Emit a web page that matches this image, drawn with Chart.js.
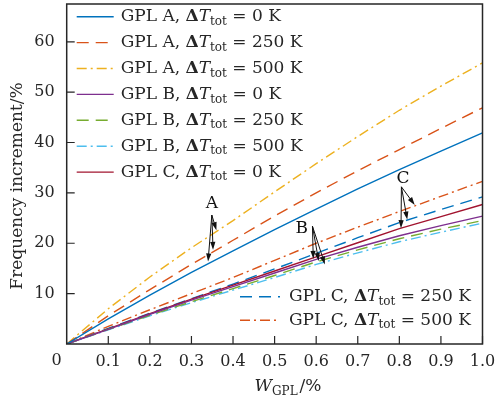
<!DOCTYPE html>
<html>
<head>
<meta charset="utf-8">
<script src="https://cdn.jsdelivr.net/npm/chart.js@4.4.0/dist/chart.umd.min.js"></script>
<style>
  html, body { margin: 0; padding: 0; background: #ffffff; }
  #wrap { width: 497px; height: 404px; position: relative; }
</style>
</head>
<body>
<div id="wrap"><canvas id="freqChart"></canvas></div>
<script>
// GPL weight fraction (x axis)
const wgpl = [0, 0.1, 0.2, 0.3, 0.4, 0.5, 0.6, 0.7, 0.8, 0.9, 1.0];

// frequency increment (%)
const gplA_0K   = [0, 5.0, 9.7, 14.2, 18.5, 22.7, 26.8, 30.8, 34.6, 38.3, 41.9];
const gplA_250K = [0, 5.6, 10.8, 15.8, 20.6, 25.4, 30.0, 34.4, 38.6, 42.8, 46.9];
const gplA_500K = [0, 7.0, 13.3, 19.1, 24.5, 30.2, 35.8, 41.2, 46.4, 51.2, 55.8];
const gplB_0K   = [0, 2.9, 5.9, 8.7, 11.4, 14.1, 16.8, 19.2, 21.5, 23.5, 25.4];
const gplB_250K = [0, 2.9, 5.7, 8.4, 11.0, 13.6, 16.3, 18.7, 20.9, 22.8, 24.5];
const gplB_500K = [0, 2.8, 5.6, 8.2, 10.7, 13.2, 15.8, 18.1, 20.3, 22.2, 24.0];
const gplC_0K   = [0, 3.0, 6.0, 8.9, 11.7, 14.5, 17.3, 20.1, 22.9, 25.3, 27.7];
const gplC_250K = [0, 3.1, 6.1, 9.0, 11.9, 14.9, 18.0, 21.1, 24.1, 26.7, 29.2];
const gplC_500K = [0, 3.5, 6.8, 10.0, 13.2, 16.6, 20.0, 23.2, 26.3, 29.3, 32.3];

const seriesGpl  = ['A', 'A', 'A', 'B', 'B', 'B', 'C', 'C', 'C'];
const seriesTemp = [0, 250, 500, 0, 250, 500, 0, 250, 500];
const seriesData = [gplA_0K, gplA_250K, gplA_500K, gplB_0K, gplB_250K, gplB_500K, gplC_0K, gplC_250K, gplC_500K];

const xTicks = [0.1, 0.2, 0.3, 0.4, 0.5, 0.6, 0.7, 0.8, 0.9, 1.0];
const yTicks = [10, 20, 30, 40, 50, 60];

// arrow callouts, in data units: label pos, arrow start, arrow tips
const callouts = [
    { text: 'A', at: [0.349, 27.9], from: [0.349, 25.6], tips: [[0.340, 16.4], [0.352, 18.7], [0.360, 22.6]] },
    { text: 'B', at: [0.565, 23.0], from: [0.591, 23.4], tips: [[0.593, 16.9], [0.606, 16.5], [0.621, 15.8]] },
    { text: 'C', at: [0.809, 32.9], from: [0.805, 31.2], tips: [[0.837, 27.6], [0.819, 24.7], [0.804, 23.0]] }
];

const colors = ['#0072BD', '#D95319', '#EDB120', '#7E2F8E', '#77AC30', '#4DBEEE', '#A2142F', '#0072BD', '#D95319'];
const dashes = [[], [12, 7], [10, 4, 2, 4]];
const SERIF = "'DejaVu Serif', 'Liberation Serif', serif";
const INK = '#262626';

const datasets = seriesData.map(function(vals, i) {
    return {
        label: 'GPL ' + seriesGpl[i] + ', \u0394Ttot = ' + seriesTemp[i] + ' K',
        data: vals.map((v, k) => ({ x: wgpl[k], y: v })),
        borderColor: colors[i],
        backgroundColor: colors[i],
        borderWidth: 1.4,
        borderDash: dashes[i % 3],
        pointRadius: 0,
        tension: 0,
        fill: false
    };
});

// draw "GPL A, ΔT_tot = 0 K" with bold Delta, italic T and subscript
function drawRichLabel(ctx, x, y, gpl, temp, size) {
    ctx.textBaseline = 'middle';
    ctx.textAlign = 'left';
    const parts = [
        { t: 'GPL ' + gpl + ', ', f: size + 'px ' + SERIF, dy: 0 },
        { t: '\u0394', f: 'bold ' + size + 'px ' + SERIF, dy: 0 },
        { t: 'T', f: 'italic ' + size + 'px ' + SERIF, dy: 0 },
        { t: 'tot', f: Math.round(size * 0.7) + 'px ' + SERIF, dy: 5 },
        { t: ' = ' + temp + ' K', f: size + 'px ' + SERIF, dy: 0 }
    ];
    let cx = x;
    parts.forEach(function(p) {
        ctx.font = p.f;
        ctx.fillText(p.t, cx, y + p.dy);
        cx += ctx.measureText(p.t).width;
    });
}

const decorPlugin = {
    id: 'decor',
    afterDraw: function(chart) {
        const ctx = chart.ctx;
        const area = chart.chartArea;
        const xs = chart.scales.x;
        const ys = chart.scales.y;
        ctx.save();

        // frame and inward ticks
        ctx.strokeStyle = INK;
        ctx.lineWidth = 1.5;
        ctx.setLineDash([]);
        ctx.strokeRect(area.left, area.top, area.right - area.left, area.bottom - area.top);
        ctx.lineWidth = 1.2;
        ctx.beginPath();
        xTicks.forEach(function(v) {
            const px = xs.getPixelForValue(v);
            ctx.moveTo(px, area.bottom);
            ctx.lineTo(px, area.bottom - 8);
        });
        yTicks.forEach(function(v) {
            const py = ys.getPixelForValue(v);
            ctx.moveTo(area.left, py);
            ctx.lineTo(area.left + 8, py);
        });
        ctx.stroke();

        // shared origin label
        ctx.fillStyle = INK;
        ctx.font = '16px ' + SERIF;
        ctx.textAlign = 'center';
        ctx.textBaseline = 'middle';
        ctx.fillText('0', area.left - 10, area.bottom + 17);

        // axis titles
        ctx.save();
        ctx.translate(18, 186);
        ctx.rotate(-Math.PI / 2);
        ctx.font = '17px ' + SERIF;
        ctx.textAlign = 'center';
        ctx.fillText('Frequency increment/%', 0, 0);
        ctx.restore();

        ctx.textAlign = 'left';
        ctx.font = 'italic 17px ' + SERIF;
        const wW = ctx.measureText('W').width;
        ctx.font = '12px ' + SERIF;
        const gW = ctx.measureText('GPL').width;
        ctx.font = '17px ' + SERIF;
        const pW = ctx.measureText('/%').width;
        let tx = 288 - (wW + gW + pW + 2) / 2;
        ctx.font = 'italic 17px ' + SERIF;
        ctx.fillText('W', tx, 387);
        tx += wW;
        ctx.font = '12px ' + SERIF;
        ctx.fillText('GPL', tx, 392);
        tx += gW + 2;
        ctx.font = '17px ' + SERIF;
        ctx.fillText('/%', tx, 387);

        // legend: first seven at top left, last two at bottom right
        chart.data.datasets.forEach(function(ds, i) {
            let lx0, lx1, tx0, ly;
            if (i < 7) {
                lx0 = area.left + 10; lx1 = area.left + 47; tx0 = area.left + 54;
                ly = area.top + 12.7 + 25.9 * i;
            } else {
                lx0 = 240; lx1 = 280; tx0 = 289;
                ly = 296.7 + 23.5 * (i - 7);
            }
            ctx.strokeStyle = ds.borderColor;
            ctx.lineWidth = ds.borderWidth;
            ctx.setLineDash(ds.borderDash);
            ctx.beginPath();
            ctx.moveTo(lx0, ly);
            ctx.lineTo(lx1, ly);
            ctx.stroke();
            ctx.setLineDash([]);
            ctx.fillStyle = INK;
            drawRichLabel(ctx, tx0, ly, seriesGpl[i], seriesTemp[i], 17);
        });

        // callout arrows
        ctx.strokeStyle = '#111111';
        ctx.fillStyle = '#111111';
        ctx.lineWidth = 1;
        callouts.forEach(function(c) {
            ctx.font = '17px ' + SERIF;
            ctx.textAlign = 'center';
            ctx.textBaseline = 'middle';
            ctx.fillText(c.text, xs.getPixelForValue(c.at[0]), ys.getPixelForValue(c.at[1]));
            const sx = xs.getPixelForValue(c.from[0]);
            const sy = ys.getPixelForValue(c.from[1]);
            c.tips.forEach(function(t) {
                const ex = xs.getPixelForValue(t[0]);
                const ey = ys.getPixelForValue(t[1]);
                const ang = Math.atan2(ey - sy, ex - sx);
                ctx.beginPath();
                ctx.moveTo(sx, sy);
                ctx.lineTo(ex - 6 * Math.cos(ang), ey - 6 * Math.sin(ang));
                ctx.stroke();
                ctx.beginPath();
                ctx.moveTo(ex, ey);
                ctx.lineTo(ex - 8 * Math.cos(ang) + 2.6 * Math.sin(ang), ey - 8 * Math.sin(ang) - 2.6 * Math.cos(ang));
                ctx.lineTo(ex - 8 * Math.cos(ang) - 2.6 * Math.sin(ang), ey - 8 * Math.sin(ang) + 2.6 * Math.cos(ang));
                ctx.closePath();
                ctx.fill();
            });
        });

        ctx.restore();
    }
};

new Chart(document.getElementById('freqChart'), {
    type: 'line',
    data: { datasets: datasets },
    options: {
        responsive: true,
        maintainAspectRatio: false,
        animation: false,
        layout: { padding: { top: 4, right: 14.5, left: 0, bottom: 0 } },
        plugins: {
            legend: { display: false },
            tooltip: { enabled: false }
        },
        scales: {
            x: {
                type: 'linear',
                min: 0,
                max: 1,
                afterFit: function(s) {
                    s.height = 60;
                    s.paddingLeft = 0;
                    s.paddingRight = 0;
                },
                grid: { display: false },
                border: { display: false },
                ticks: {
                    stepSize: 0.1,
                    autoSkip: false,
                    maxRotation: 0,
                    padding: 0,
                    color: INK,
                    font: { family: SERIF, size: 16 },
                    callback: function(value) {
                        return value < 0.05 ? '' : value.toFixed(1);
                    }
                }
            },
            y: {
                type: 'linear',
                min: 0,
                max: 67.5,
                afterFit: function(s) {
                    s.width = 66.7;
                    s.paddingTop = 0;
                    s.paddingBottom = 0;
                },
                grid: { display: false },
                border: { display: false },
                ticks: {
                    stepSize: 10,
                    padding: 4,
                    color: INK,
                    font: { family: SERIF, size: 16 },
                    callback: function(value) {
                        return (value === 0 || value % 10 !== 0) ? '' : value;
                    }
                }
            }
        }
    },
    plugins: [decorPlugin]
});
</script>
</body>
</html>
